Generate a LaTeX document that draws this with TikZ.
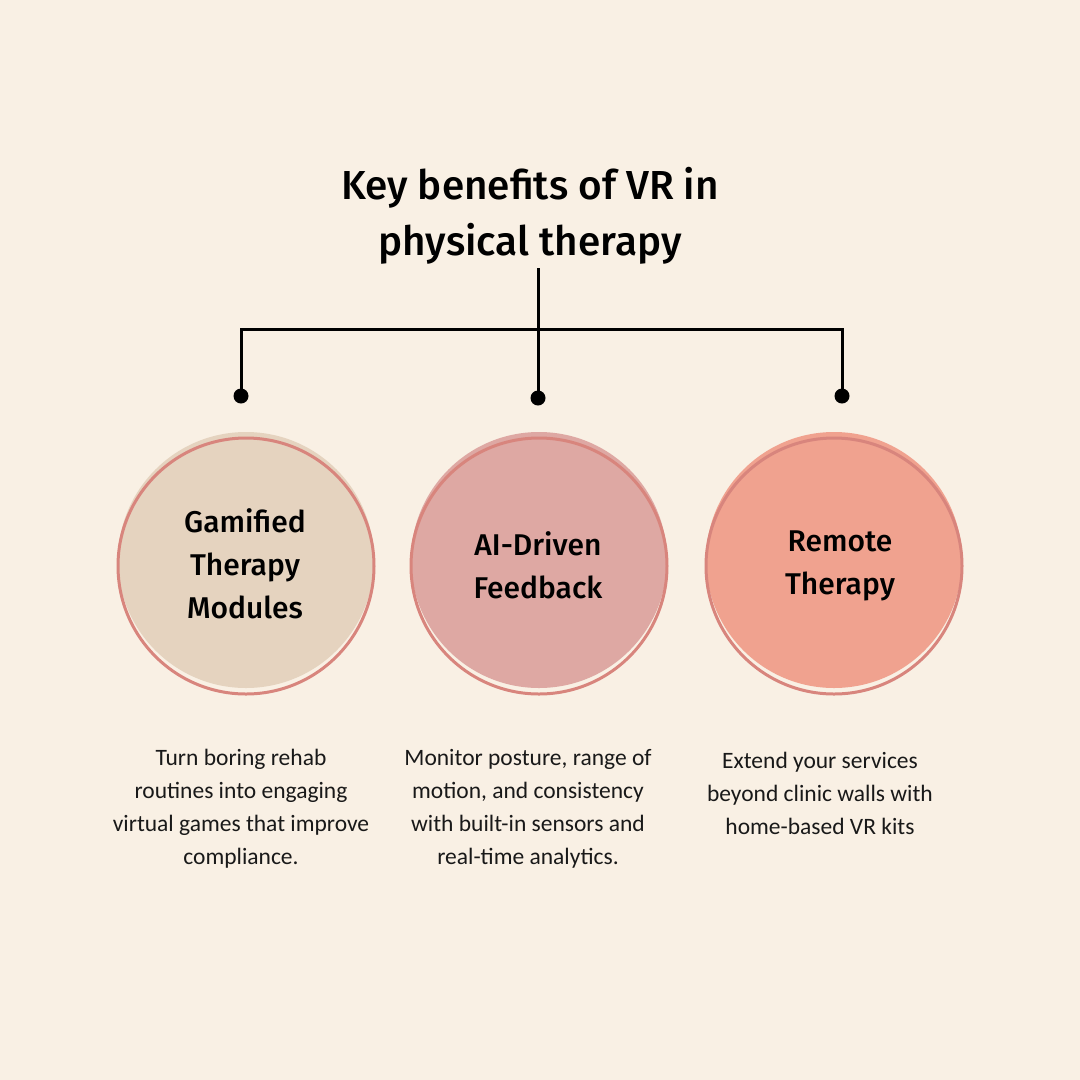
\documentclass[tikz,border=0pt]{standalone}
\usepackage{fontspec}
\setmainfont{Carlito}
\newfontfamily\headfont{Fira Sans}[UprightFont={* Medium}]
\definecolor{bg}{HTML}{F9F0E4}
\definecolor{ring}{HTML}{D8857D}
\definecolor{fillA}{HTML}{E5D3BF}
\definecolor{fillB}{HTML}{DEA8A3}
\definecolor{fillC}{HTML}{F0A28F}
\begin{document}
\begin{tikzpicture}[x=1pt,y=-1pt,
  disk/.style={circle,minimum size=256pt,inner sep=0pt},
  ringc/.style={circle,draw=ring,line width=3pt,minimum size=256pt,inner sep=0pt},
  lab/.style={font=\headfont\fontsize{30}{43}\selectfont,align=center,text=black},
  desc/.style={font=\fontsize{23.5}{33}\selectfont,align=center,text=black!90},
  dotn/.style={circle,fill=black,minimum size=15pt,inner sep=0pt},
  conn/.style={line width=3pt,black}]
\fill[bg] (0,0) rectangle (1080,1080);
\useasboundingbox (0,0) rectangle (1080,1080);
% title
\node[font=\headfont\fontsize{40.5}{56}\selectfont,align=center] (title) at (530,216)
  {Key benefits of VR in\\physical therapy};
% connectors
\coordinate (top) at (538,268);
\coordinate (c1) at (241,329);
\coordinate (c3) at (842,329);
\node[dotn] (d1) at (241,396) {};
\node[dotn] (d2) at (538,398) {};
\node[dotn] (d3) at (842,396) {};
\draw[conn] (top) -- (d2.center);
\draw[conn,line join=miter] (d1.center) -- (c1) -- (c3) -- (d3.center);
% circles
\node[disk,fill=fillA] (f1) at (246,560) {};
\node[disk,fill=fillB] (f2) at (539,560) {};
\node[disk,fill=fillC] (f3) at (834,560) {};
\node[ringc] (r1) at (246,566) {};
\node[ringc] (r2) at (539,566) {};
\node[ringc] (r3) at (834,566) {};
\node[lab] (t1) at (245,564) {Gamified\\Therapy\\Modules};
\node[lab] (t2) at (538,565) {AI-Driven\\Feedback};
\node[lab] (t3) at (840,566) {Remote\\Therapy};
% descriptions
\node[desc] (x1) at (241,809) {Turn boring rehab\\routines into engaging\\virtual games that improve\\compliance.};
\node[desc] (x2) at (528,809) {Monitor posture, range of\\motion, and consistency\\with built-in sensors and\\real-time analytics.};
\node[desc] (x3) at (820,793) {Extend your services\\beyond clinic walls with\\home-based VR kits};
\end{tikzpicture}
\end{document}
